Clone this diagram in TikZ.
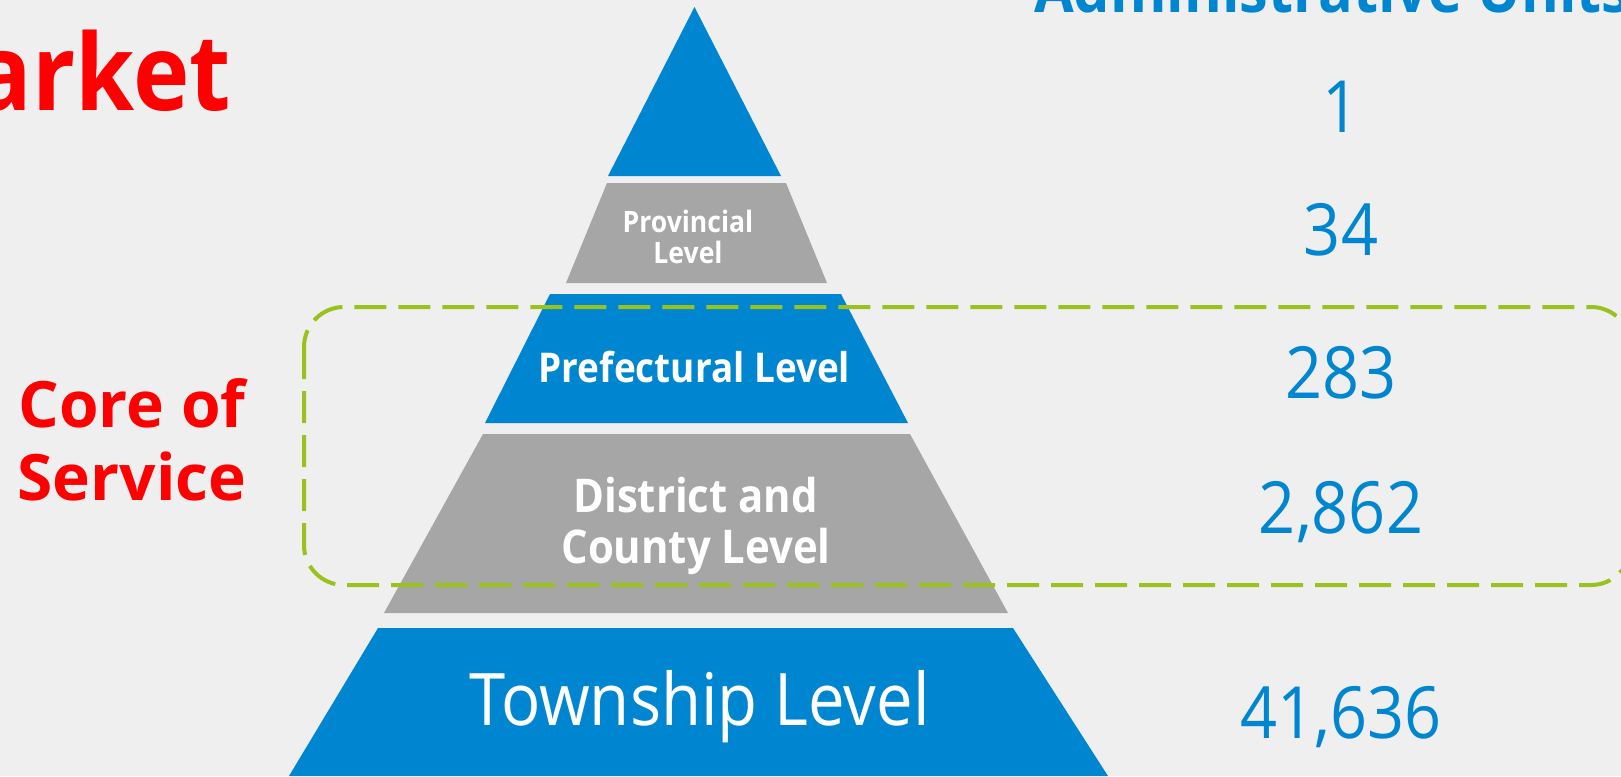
\documentclass[tikz,border=0pt]{standalone}
\usepackage{fontspec}
\setmainfont{Open Sans}[FakeStretch=0.9]
\newfontfamily\widefont{Open Sans}
\definecolor{pblue}{HTML}{0086D1}
\definecolor{pgray}{HTML}{A6A6A6}
\definecolor{pred}{HTML}{FF0000}
\definecolor{pgreen}{HTML}{99C31C}
\definecolor{bgc}{HTML}{EFEFF0}
\begin{document}
\begin{tikzpicture}[x=1pt,y=-1pt,
  txt/.style={inner sep=0pt, anchor=base},
  lvl/.style={txt, text=white},
  num/.style={txt, text=pblue, font=\fontsize{72}{80}\selectfont},
  side/.style={txt, text=pred, font=\widefont\bfseries\fontsize{64}{72}\selectfont},
  band/.style={fill=#1},
  corebox/.style={draw=pgreen, line width=4pt, rounded corners=40pt, dash pattern=on 32pt off 12pt}
]
\fill[bgc] (0,0) rectangle (1621,776);
\useasboundingbox (0,0) rectangle (1621,776);
% pyramid bands
\fill[band=pblue] (694.5,7) -- (781,176) -- (608,176) -- cycle;
\fill[band=pgray] (607,183) -- (786,183) -- (827,283) -- (566,283) -- cycle;
\fill[band=pblue] (550,294) -- (841,294) -- (908,423) -- (485,423) -- cycle;
\fill[band=pgray] (483,434) -- (910,434) -- (1008,613) -- (384,613) -- cycle;
\fill[band=pblue] (378,628) -- (1013,628) -- (1108,776) -- (289,776) -- cycle;
% level labels
\node[lvl, font=\bfseries\fontsize{29.5}{34}\selectfont] (prov1) at (688,232) {Provincial};
\node[lvl, font=\bfseries\fontsize{29.5}{34}\selectfont] (prov2) at (688,263) {Level};
\node[lvl, font=\bfseries\fontsize{41}{48}\selectfont] (pref) at (694.5,382) {Prefectural Level};
\node[lvl, font=\bfseries\fontsize{46.5}{52}\selectfont] (dist1) at (695.5,512) {District and};
\node[lvl, font=\bfseries\fontsize{46.5}{52}\selectfont] (dist2) at (696,563) {County Level};
\node[lvl, font=\fontsize{72.5}{80}\selectfont] (town) at (699.5,725) {Township Level};
% core box
\draw[corebox] (304,307) rectangle (1631,585);
% numbers
\node[num] (n1) at (1341,132) {1};
\node[num] (n2) at (1341,255) {34};
\node[num] (n3) at (1341,398) {283};
\node[num] (n4) at (1341,533) {2,862};
\node[num] (n5) at (1341,738) {41,636};
% side texts
\node[txt, text=pred, font=\bfseries\fontsize{106}{120}\selectfont, anchor=base east] (market) at (231,110) {Market};
\node[side] (core1) at (132,427) {Core of};
\node[side] (core2) at (132,500) {Service};
\node[txt, text=pblue, font=\bfseries\fontsize{64}{72}\selectfont, anchor=base west] (adm) at (1034,13) {Administrative Units};
\end{tikzpicture}
\end{document}
